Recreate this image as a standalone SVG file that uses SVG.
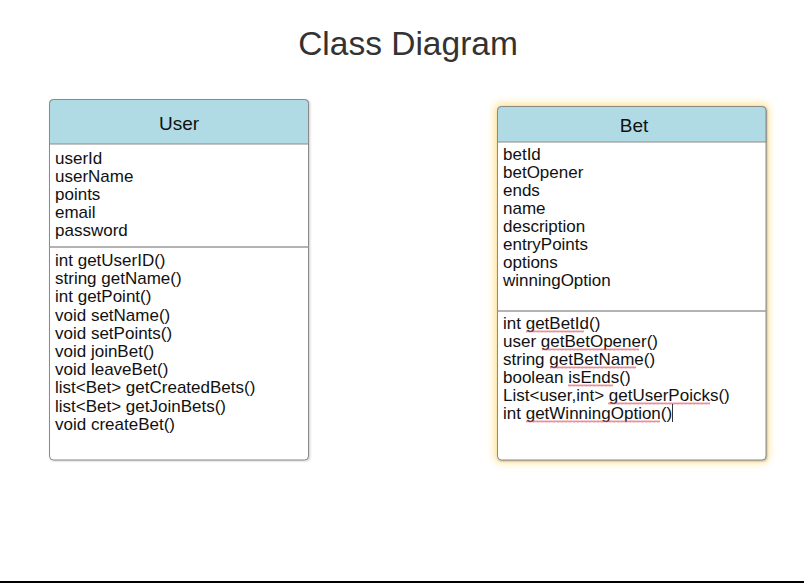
<svg xmlns="http://www.w3.org/2000/svg" width="804" height="583" viewBox="0 0 804 583">
<style>
.t{font-family:"Liberation Sans",Arial,sans-serif;fill:#111}
.title{font-size:33.5px;fill:#333;text-anchor:middle}
.hdr{font-size:19px;text-anchor:middle}
.body{font-size:17px}
.box{fill:#fff;stroke:#8a8a8a;stroke-width:1}
.head{fill:#b0dbe5;stroke:#8a8a8a;stroke-width:1}
.div{stroke:#9a9a9a;stroke-width:1.5}
.sq{fill:url(#wave)}
</style>
<defs>
<pattern id="wave" width="4" height="3" patternUnits="userSpaceOnUse">
<path d="M0,2.5 L1,0.5 L2,2.5 L3,0.5 L4,2.5" fill="none" stroke="#e0505a" stroke-width="0.8" opacity="0.8"/>
</pattern>
<filter id="glow" x="-10%" y="-10%" width="120%" height="120%">
<feGaussianBlur stdDeviation="4"/>
</filter>
<filter id="shadow" x="-5%" y="-5%" width="110%" height="110%">
<feGaussianBlur stdDeviation="1"/>
</filter>
</defs>
<rect width="804" height="583" fill="#fff"/>
<text class="t title" x="408" y="55">Class Diagram</text>

<g id="user">
<rect x="50" y="100" width="260" height="361" rx="4" fill="#999" opacity="0.5" filter="url(#shadow)"/>
<rect class="box" x="49.5" y="99.5" width="259" height="360.5" rx="4"/>
<path class="head" d="M49.5,144 V103.5 a4,4 0 0 1 4,-4 H304.5 a4,4 0 0 1 4,4 V144 Z"/>
<line class="div" x1="49.5" y1="247" x2="308.5" y2="247"/>
<text class="t hdr" x="179" y="130">User</text>
<g class="t body">
<text x="55" y="163.5">userId</text>
<text x="55" y="181.5">userName</text>
<text x="55" y="199.5">points</text>
<text x="55" y="217.5">email</text>
<text x="55" y="235.5">password</text>
<text x="55" y="266">int getUserID()</text>
<text x="55" y="284.2">string getName()</text>
<text x="55" y="302.4">int getPoint()</text>
<text x="55" y="320.6">void setName()</text>
<text x="55" y="338.8">void setPoints()</text>
<text x="55" y="357">void joinBet()</text>
<text x="55" y="375.2">void leaveBet()</text>
<text x="55" y="393.4">list&lt;Bet&gt; getCreatedBets()</text>
<text x="55" y="411.6">list&lt;Bet&gt; getJoinBets()</text>
<text x="55" y="429.8">void createBet()</text>
</g>
</g>

<g id="bet">
<rect x="495" y="104" width="273" height="358" rx="5" fill="#ffd35c" opacity="0.75" filter="url(#glow)"/>
<rect x="498" y="107" width="269" height="354" rx="4" fill="#777" opacity="0.6" filter="url(#shadow)"/>
<rect class="box" x="497.5" y="106.5" width="268.5" height="353.5" rx="4"/>
<path class="head" d="M497.5,142 V110.5 a4,4 0 0 1 4,-4 H762 a4,4 0 0 1 4,4 V142 Z"/>
<line class="div" x1="497.5" y1="311" x2="766" y2="311"/>
<text class="t hdr" x="634" y="132">Bet</text>
<g class="t body">
<text x="503" y="160">betId</text>
<text x="503" y="178">betOpener</text>
<text x="503" y="196">ends</text>
<text x="503" y="214">name</text>
<text x="503" y="232">description</text>
<text x="503" y="250">entryPoints</text>
<text x="503" y="268">options</text>
<text x="503" y="286">winningOption</text>
<text x="503" y="328.5">int getBetId()</text>
<text x="503" y="346.5">user getBetOpener()</text>
<text x="503" y="364.5">string getBetName()</text>
<text x="503" y="382.5">boolean isEnds()</text>
<text x="503" y="400.5">List&lt;user,int&gt; getUserPoicks()</text>
<text x="503" y="418.5">int getWinningOption()</text>
</g>
<g id="squiggles">
<rect class="sq" x="526" y="330" width="58" height="3"/>
<rect class="sq" x="542" y="348" width="97" height="3"/>
<rect class="sq" x="550" y="366" width="86" height="3"/>
<rect class="sq" x="568" y="384" width="45" height="3"/>
<rect class="sq" x="608" y="402" width="102" height="3"/>
<rect class="sq" x="526" y="420" width="134" height="3"/>
</g>
<line x1="672.5" y1="404" x2="672.5" y2="422" stroke="#333" stroke-width="1"/>
</g>

<g id="connectors"></g>
<rect x="0" y="581" width="804" height="2" fill="#000"/>
</svg>
